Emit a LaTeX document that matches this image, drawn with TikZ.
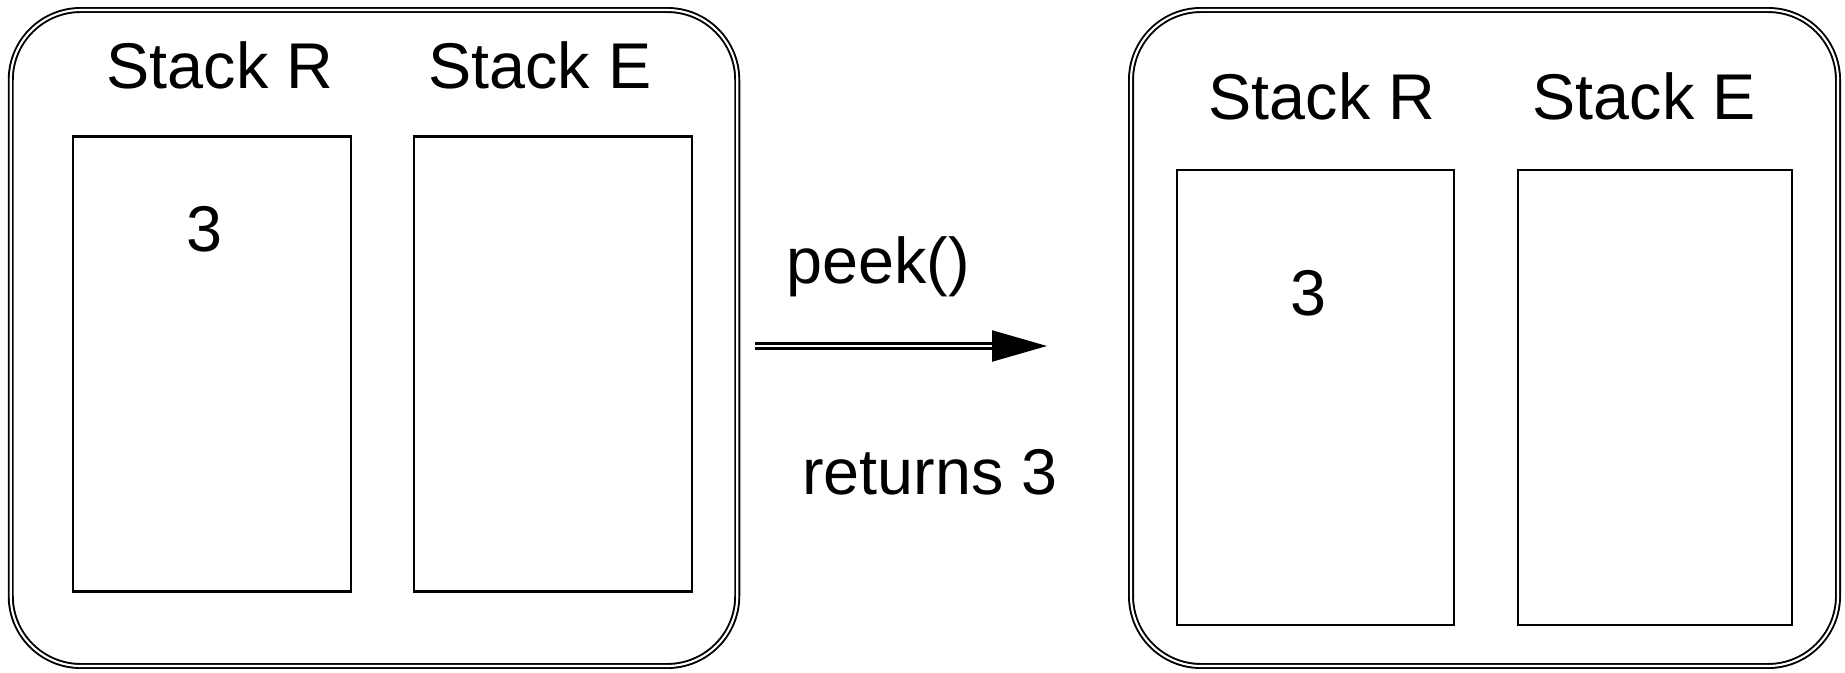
\documentclass[tikz,border=0pt]{standalone}
\usepackage{fontspec}
\setmainfont{Liberation Sans}
\usetikzlibrary{arrows.meta}

\begin{document}
\begin{tikzpicture}[x=1cm,y=1cm,
  frame/.style={draw,double,line width=0.55pt,double distance=0.6pt,rounded corners=0.7cm,inner sep=0pt,outer sep=0pt},
  stackbox/.style={draw,line width=0.6pt,inner sep=0pt,outer sep=0pt,minimum height=4.55cm},
  txt/.style={font=\fontsize{18.4}{22}\selectfont,inner sep=0pt,anchor=base},
  link/.style={draw,double,line width=0.6pt,double distance=0.85pt,shorten >=0.5cm},
  tip/.style={-{Triangle[length=0.55cm,width=0.31cm]},line width=0.6pt,shorten <=2.37cm}
]
\path[use as bounding box] (0,0) rectangle (18.45,6.72);

% State before the call
\node[frame,minimum width=7.265cm,minimum height=6.56cm] (before) at (3.74,3.34) {};
\node[stackbox,minimum width=2.78cm] (beforeR) at (2.12,3.08) {};
\node[stackbox,minimum width=2.78cm] (beforeE) at (5.53,3.08) {};
\node[txt] (beforeRtitle) at (2.20,5.84) {Stack R};
\node[txt] (beforeEtitle) at (5.40,5.84) {Stack E};
\node[txt] (beforeRtop) at (2.04,4.21) {3};

% State after the call
\node[frame,minimum width=7.07cm,minimum height=6.56cm] (after) at (14.845,3.34) {};
\node[stackbox,minimum width=2.77cm] (afterR) at (13.155,2.745) {};
\node[stackbox,minimum width=2.74cm] (afterE) at (16.55,2.745) {};
\node[txt] (afterRtitle) at (13.22,5.52) {Stack R};
\node[txt] (afterEtitle) at (16.44,5.52) {Stack E};
\node[txt] (afterRtop) at (13.08,3.57) {3};

% Operation between the two states
\coordinate (opstart) at (7.55,3.26);
\coordinate (opend) at (10.47,3.26);
\draw[link] (opstart) -- (opend);
\draw[tip] (opstart) -- (opend);
\node[txt] (opname) at (8.78,3.89) {peek()};
\node[txt] (opresult) at (9.30,1.78) {returns 3};

\end{tikzpicture}
\end{document}
